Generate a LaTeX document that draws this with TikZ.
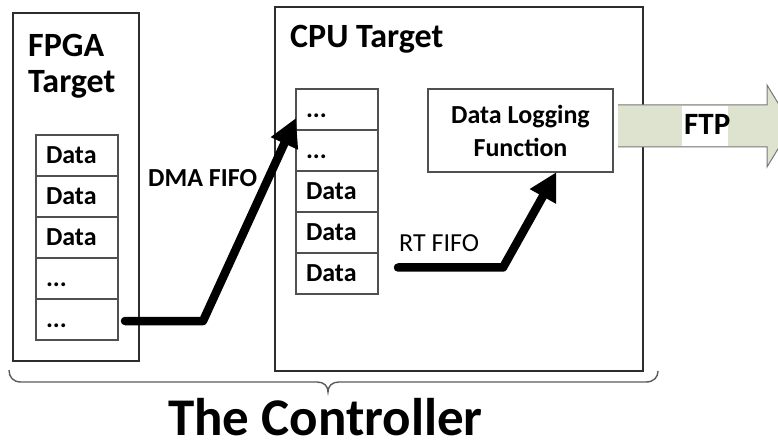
\documentclass[tikz,border=0pt]{standalone}
\usepackage{fontspec}
\setmainfont{Carlito}
\usetikzlibrary{arrows.meta,positioning}
\definecolor{boxline}{RGB}{45,45,45}
\definecolor{cellline}{RGB}{80,80,80}
\definecolor{ftpfill}{RGB}{221,227,206}
\definecolor{ftpline}{RGB}{120,120,120}
\definecolor{braceline}{RGB}{90,90,90}
\newcommand\ttlfont{\fontsize{34}{40}\selectfont\bfseries}
\newcommand\cellfont{\fontsize{26}{30}\selectfont\bfseries}
\newcommand\labfont{\fontsize{26}{30}\selectfont}
\newcommand\ftpfont{\fontsize{31}{36}\selectfont\bfseries}
\newcommand\bigfont{\fontsize{53}{60}\selectfont\bfseries}
\begin{document}
\begin{tikzpicture}[x=1pt,y=-1pt,
  container/.style={draw=boxline, line width=1.6pt, inner sep=0pt, outer sep=0pt, anchor=north west},
  cell/.style={draw=cellline, line width=1.3pt, text width=62pt, inner xsep=10pt, inner ysep=0pt,
    outer sep=0pt, minimum height=41pt, align=left, font=\cellfont},
  title/.style={font=\ttlfont, anchor=base west, inner sep=0pt},
  lab/.style={anchor=base west, inner sep=0pt},
  flow/.style={line width=8.5pt, line cap=round, line join=round, -{Triangle[length=28pt,width=28pt]}}]
\useasboundingbox (0,0) rectangle (778,443);
\clip (0,0) rectangle (778,443);

% targets
\node[container, minimum width=126pt, minimum height=348pt] (fpga) at (13,13) {};
\node[container, minimum width=368pt, minimum height=364pt] (cpu) at (275,7) {};

% FPGA side FIFO
\node[cell, anchor=north west] (f1) at (36,135) {Data};
\node[cell, below=0pt of f1] (f2) {Data};
\node[cell, below=0pt of f2] (f3) {Data};
\node[cell, below=0pt of f3] (f4) {\vphantom{D}...};
\node[cell, below=0pt of f4] (f5) {\vphantom{D}...};

% CPU side FIFO
\node[cell, anchor=north west] (c1) at (296,89) {\vphantom{D}...};
\node[cell, below=0pt of c1] (c2) {\vphantom{D}...};
\node[cell, below=0pt of c2] (c3) {Data};
\node[cell, below=0pt of c3] (c4) {Data};
\node[cell, below=0pt of c4] (c5) {Data};

% logging function
\node[container, draw=cellline, line width=1.3pt, minimum width=185pt, minimum height=83pt,
  align=center, font=\cellfont, execute at begin node={\baselineskip=33pt}] (dlog) at (428,89)
  {Data Logging\\Function};

% transfers
\draw[flow] ([xshift=7pt,yshift=-1.5pt]f5.east) -- ++(78,0) -- ([yshift=-8.5pt]c1.west);
\draw[flow] ([xshift=20pt,yshift=6pt]c5.east) -- ++(105,0) -- ([xshift=36pt]dlog.south);

\node[lab, font=\cellfont] (dma) at (148,187) {DMA FIFO};
\node[lab, font=\labfont] (rt) at (399,252) {RT FIFO};

% titles
\node[title] (fpgat) at (28,57) {FPGA};
\node[title] (fpgat2) at (28,93) {Target};
\node[title] (cput) at (290,48) {CPU Target};

% FTP output arrow
\fill[ftpfill] (618,105) -- (767,105) -- (767,85) -- (792,126) -- (767,167) -- (767,147) -- (618,147) -- cycle;
\draw[ftpline, line width=1pt, line join=miter] (618,105) -- (767,105) -- (767,85) -- (792,126) -- (767,167) -- (767,147) -- (618,147);
\fill[white] (682,106) rectangle (728,146);
\node[lab, font=\ftpfont] (ftp) at (684,135) {FTP};

% controller brace
\draw[braceline, line width=1.4pt] (9,370) .. controls (9,377) and (13,382) .. (21,382) -- (317,382)
  .. controls (324,382) and (328,386) .. (328,392)
  .. controls (328,386) and (332,382) .. (339,382) -- (646,382)
  .. controls (654,382) and (658,377) .. (658,371);
\node[lab, font=\bigfont] (ctrl) at (168,435) {The Controller};
\end{tikzpicture}
\end{document}
